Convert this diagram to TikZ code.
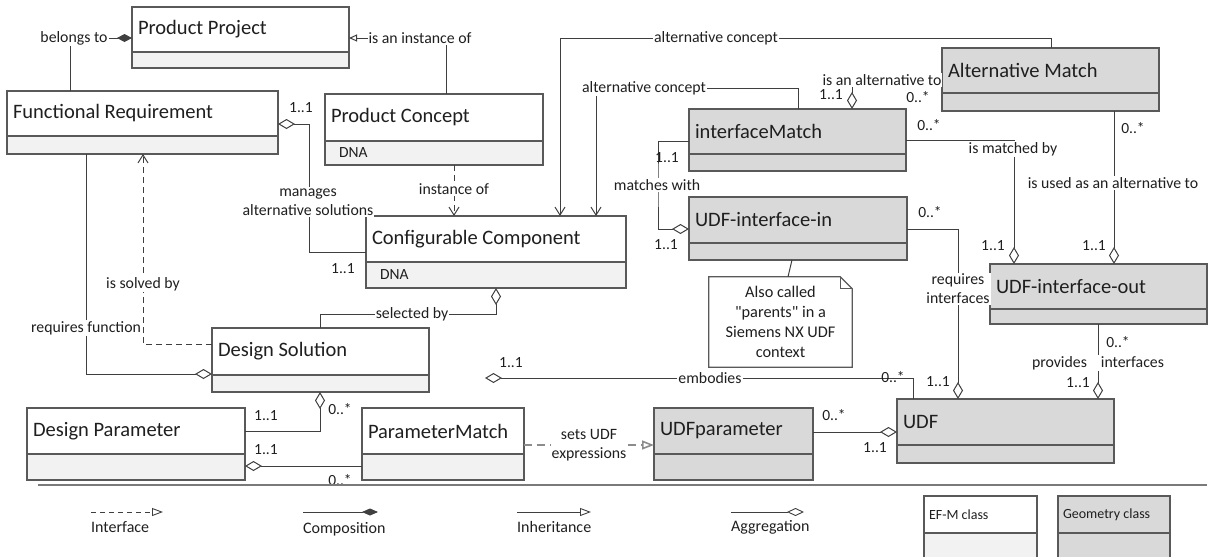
\documentclass[tikz,border=0pt]{standalone}
\usepackage{fontspec}
\setmainfont{Carlito}
\usetikzlibrary{arrows.meta,fit,calc}

\definecolor{edge}{HTML}{595959}
\definecolor{wire}{HTML}{3F3F3F}
\definecolor{ink}{HTML}{1F1F1F}
\definecolor{efmbody}{HTML}{F2F2F2}
\definecolor{geofill}{HTML}{D9D9D9}
\definecolor{dashgray}{HTML}{8C8C8C}

\tikzset{
  x=1pt, y=-1pt,
  every node/.style={text=ink},
  clsbox/.style={draw=edge, line width=1.3pt, inner sep=0pt, outer sep=0pt},
  efm head/.style={clsbox, fill=white},
  efm body/.style={clsbox, fill=efmbody},
  geo head/.style={clsbox, fill=geofill},
  geo body/.style={clsbox, fill=geofill},
  clsname/.style={font=\fontsize{20.5}{24}\selectfont, align=flush left},
  attr/.style={font=\fontsize{15.5}{19}\selectfont, align=flush left},
  lbl/.style={font=\fontsize{15.8}{19}\selectfont, fill=white, inner xsep=1pt, inner ysep=1.5pt, align=center},
  card/.style={font=\fontsize{15.5}{19}\selectfont, inner sep=0pt},
  legtxt/.style={font=\fontsize{16}{19}\selectfont, inner sep=0pt, anchor=west},
  wire/.style={draw=wire, line width=1pt},
  aggr/.style={wire, -{Diamond[open, length=17pt, width=10pt]}},
  aggrstart/.style={wire, {Diamond[open, length=17pt, width=10pt]}-},
  compo/.style={wire, -{Diamond[length=15pt, width=8pt]}},
  assocv/.style={wire, -{Straight Barb[length=8pt, width=10pt]}},
  depv/.style={wire, dash pattern=on 6pt off 4pt, -{Straight Barb[length=8pt, width=10pt]}},
  realize/.style={draw=dashgray, line width=1.6pt, dash pattern=on 8pt off 5pt, -{Triangle[open, length=12pt, width=9pt]}},
  inh/.style={wire, -{Triangle[open, length=8pt, width=7pt]}},
  notedraw/.style={draw=edge, line width=1.2pt, fill=white},
  sepline/.style={draw=edge!80, line width=1.3pt},
}

% class box: name, kind, x1, y1, x2, y-divider, y2, title, attributes
\newcommand\umlclass[9]{%
  \pgfmathsetmacro\clsW{#5-#3}%
  \pgfmathsetmacro\clsHH{#6-#4}%
  \pgfmathsetmacro\clsBH{#7-#6}%
  \pgfmathsetmacro\clsTW{#5-#3-12}%
  \pgfmathsetmacro\clsAW{#5-#3-28}%
  \node[#2 head, clsname, anchor=north west, minimum width=\clsW pt,
        minimum height=\clsHH pt, text width=\clsTW pt, inner xsep=6pt] (#1h) at (#3,#4) {#8};
  \node[#2 body, attr, anchor=north west, minimum width=\clsW pt,
        minimum height=\clsBH pt, text width=\clsAW pt, inner xsep=14pt] (#1b) at (#1h.south west) {#9};
  \node[fit=(#1h)(#1b), inner sep=0pt, outer sep=0pt] (#1) {};
}

\begin{document}
\begin{tikzpicture}
\useasboundingbox (0,0) rectangle (1211,557);
\clip (0,0) rectangle (1211,557);

% ---------- classes ----------
\umlclass{PP}{efm}{132}{7}{349}{52}{68}{Product Project}{}
\umlclass{FR}{efm}{7}{91}{278}{136}{154}{Functional Requirement}{}
\umlclass{PC}{efm}{325}{94}{543}{141}{165}{Product Concept}{DNA}
\umlclass{CC}{efm}{366}{216}{626}{262}{288}{Configurable Component}{DNA}
\umlclass{DS}{efm}{212}{328}{429}{375}{392}{Design Solution}{}
\umlclass{DP}{efm}{27}{408}{245}{454}{480}{Design Parameter}{}
\umlclass{PM}{efm}{362}{408}{524}{454}{480}{ParameterMatch}{}
\umlclass{UP}{geo}{654}{408}{813}{454}{480}{UDFparameter}{}
\umlclass{UDF}{geo}{897}{399}{1114}{445}{463}{UDF}{}
\umlclass{AM}{geo}{942}{48}{1159}{93}{111}{Alternative Match}{}
\umlclass{IM}{geo}{689}{109}{906}{154}{171}{interfaceMatch}{}
\umlclass{UI}{geo}{689}{197}{907}{243}{260}{UDF-interface-in}{}
\umlclass{UO}{geo}{990}{264}{1207}{309}{324}{UDF-interface-out}{}

% ---------- note ----------
\node[minimum width=143pt, minimum height=90pt, inner sep=0pt] (NT) at (780.5,322) {};
\draw[notedraw] (NT.north west) -- ($(NT.north east)+(-12,0)$) -- ($(NT.north east)+(0,12)$)
  -- (NT.south east) -- (NT.south west) -- cycle;
\draw[draw=edge, line width=1.2pt] ($(NT.north east)+(-12,0)$) |- ($(NT.north east)+(0,12)$);
\node[font=\fontsize{16.3}{20}\selectfont, align=center, inner sep=0pt] (NTt) at (NT.center)
  {Also called\\\textquotedbl parents\textquotedbl{} in a\\Siemens NX UDF\\context};
\draw[wire] (792,0 |- UI.south) -- (788,0 |- NT.north);

% ---------- connectors ----------
\coordinate (embEnd) at (485,378);

\draw[compo] (70,0 |- FR.north) |- (PP.west |- 0,38);
\draw[inh] (446,0 |- PC.north) |- (PP.east |- 0,38);
\draw[depv] (454,0 |- PC.south) -- (454,0 |- CC.north);
\draw[assocv] (1051,0 |- AM.north) |- (560,38) -- (560,0 |- CC.north);
\draw[assocv] (798,0 |- IM.north) |- (596,88) -- (596,0 |- CC.north);
\draw[aggr] (AM.west |- 0,80) -| (852,0 |- IM.north);
\draw[aggr] (IM.east |- 0,140) -| (1014,0 |- UO.north);
\draw[aggr] (1114,0 |- AM.south) -- (1114,0 |- UO.north);
\draw[aggr] (IM.west |- 0,141) -| (658,185) |- (UI.west |- 0,229);
\draw[aggr] (UI.east |- 0,229) -| (958,0 |- UDF.north);
\draw[aggr] (1098,0 |- UO.south) -- (1098,0 |- UDF.north);
\draw[aggr] (913,0 |- UDF.north) |- (embEnd);
\draw[aggr] (320,0 |- DS.north) |- (496,314) -- (496,0 |- CC.south);
\draw[aggr] (86,0 |- FR.south) |- (DS.west |- 0,374);
\draw[depv] (DS.west |- 0,344) -| (143,0 |- FR.south);
\draw[aggr] (DP.east |- 0,431) -| (320,0 |- DS.south);
\draw[aggr] (PM.west |- 0,466) -- (DP.east |- 0,466);
\draw[realize] (PM.east |- 0,445) -- (UP.west |- 0,445);
\draw[aggr] (UP.east |- 0,432) -- (UDF.west |- 0,432);
\draw[aggrstart] (FR.east |- 0,124) -| (309,252) -- (CC.west |- 0,252);

% ---------- multiplicities ----------
\node[card] (c1) at (301,108) {1..1};
\node[card] (c2) at (343,269) {1..1};
\node[card] (c3) at (831,95) {1..1};
\node[card] (c4) at (918,97) {0..*};
\node[card] (c5) at (929,125) {0..*};
\node[card] (c6) at (1133,128) {0..*};
\node[card] (c7) at (667,158) {1..1};
\node[card] (c8) at (666,245) {1..1};
\node[card] (c9) at (930,212) {0..*};
\node[card] (c10) at (993,246) {1..1};
\node[card] (c11) at (1094,246) {1..1};
\node[card] (c12) at (1118,342) {0..*};
\node[card] (c13) at (511,363) {1..1};
\node[card] (c14) at (893,377) {0..*};
\node[card] (c15) at (938,382) {1..1};
\node[card] (c16) at (1078,383) {1..1};
\node[card] (c17) at (266,416) {1..1};
\node[card] (c18) at (340,409) {0..*};
\node[card] (c19) at (266,450) {1..1};
\node[card] (c20) at (340,480) {0..*};
\node[card] (c21) at (834,415) {0..*};
\node[card] (c22) at (875,448) {1..1};

% ---------- association labels ----------
\node[lbl] (l1) at (74,38) {belongs to};
\node[lbl] (l2) at (420,38) {is an instance of};
\node[lbl] (l3) at (454,189) {instance of};
\node[lbl] (l4) at (716,38) {alternative concept};
\node[lbl] (l5) at (644,88) {alternative concept};
\node[lbl] (l6) at (882,80) {is an alternative to};
\node[lbl] (l7) at (1013,149) {is matched by};
\node[lbl] (l8) at (1113,183) {is used as an alternative to};
\node[lbl] (l9) at (657,185) {matches with};
\node[lbl] (l10) at (958,289) {requires\\interfaces};
\node[lbl] (l11) at (1098,363) {provides\hspace{14pt}interfaces};
\node[lbl] (l12) at (710,378) {embodies};
\node[lbl] (l13) at (412,314) {selected by};
\node[lbl] (l14) at (86,328) {requires function};
\node[lbl] (l15) at (143,284) {is solved by};
\node[lbl] (l16) at (308,202) {manages\\alternative solutions};
\node[lbl] (l17) at (589,445) {sets UDF\\expressions};

% ---------- legend ----------
\coordinate (sepL) at (38,485);
\coordinate (sepR) at (1207,485);
\draw[sepline] (sepL) -- (sepR);

\coordinate (lgIa) at (91,512);  \coordinate (lgIb) at (163,512);
\coordinate (lgCa) at (303,512); \coordinate (lgCb) at (378,512);
\coordinate (lgHa) at (517,512); \coordinate (lgHb) at (591,512);
\coordinate (lgAa) at (731,512); \coordinate (lgAb) at (804,512);
\draw[wire, line width=0.9pt, dash pattern=on 5pt off 4pt, -{Triangle[open, length=11pt, width=8pt]}] (lgIa) -- (lgIb);
\draw[wire, line width=0.9pt, -{Diamond[length=16pt, width=7pt]}] (lgCa) -- (lgCb);
\draw[wire, line width=0.9pt, -{Triangle[open, length=11pt, width=8pt]}] (lgHa) -- (lgHb);
\draw[wire, line width=0.9pt, -{Diamond[open, length=17pt, width=8pt]}] (lgAa) -- (lgAb);
\node[legtxt] (tI) at (91,527) {Interface};
\node[legtxt] (tC) at (303,529) {Composition};
\node[legtxt] (tH) at (517,527) {Inheritance};
\node[legtxt] (tA) at (731,527) {Aggregation};

\node[efm head, anchor=north west, minimum width=113pt, minimum height=37pt,
      text width=103pt, inner xsep=5pt, align=flush left, font=\fontsize{14}{17}\selectfont] (kE) at (924,496) {EF-M class};
\node[efm body, anchor=north west, minimum width=113pt, minimum height=32pt] (kEb) at (kE.south west) {};
\node[geo head, anchor=north west, minimum width=112pt, minimum height=37pt,
      text width=102pt, inner xsep=5pt, align=flush left, font=\fontsize{14}{17}\selectfont] (kG) at (1058,496) {Geometry class};
\node[geo body, anchor=north west, minimum width=112pt, minimum height=32pt] (kGb) at (kG.south west) {};

\end{tikzpicture}
\end{document}
